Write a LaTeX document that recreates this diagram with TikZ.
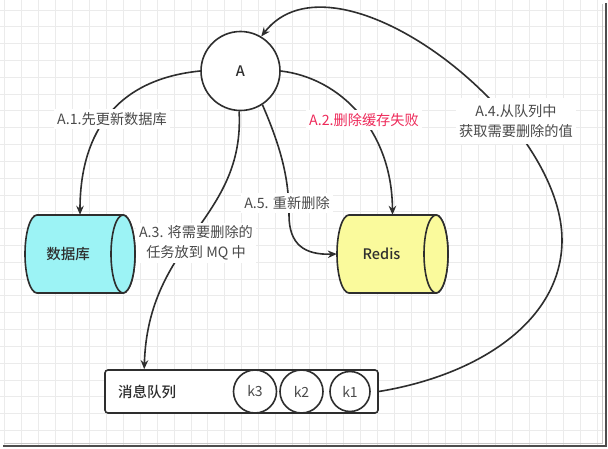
\documentclass[tikz,border=0pt]{standalone}
\usepackage{fontspec}
\setmainfont{Noto Sans CJK SC}
\newfontfamily\medfont{Noto Sans CJK SC Medium}
\usetikzlibrary{arrows.meta,calc}
\definecolor{ln}{HTML}{2E2E2E}
\definecolor{txt}{HTML}{4A4A4A}
\definecolor{redtxt}{HTML}{EE2A5A}
\definecolor{gridc}{HTML}{EBEBEB}
\definecolor{dbfill}{HTML}{9CF3F5}
\definecolor{rdfill}{HTML}{FAFA9C}
\begin{document}
\begin{tikzpicture}[x=1pt,y=-1pt,
  conn/.style={draw=ln, line width=1.6pt, -{Stealth[length=9pt,width=7.5pt]}},
  lbl/.style={fill=white, text=txt, font=\fontsize{14.2}{19.5}\selectfont, align=center, inner sep=3pt},
  shp/.style={draw=ln, line width=1.6pt},
  nodetxt/.style={text=ln, font=\fontsize{14.5}{17}\selectfont\medfont},
  kc/.style={circle, draw=ln, line width=1.6pt, fill=white, text=txt, font=\fontsize{14}{16}\selectfont, inner sep=0pt}]
\useasboundingbox (0,0) rectangle (608,449);
\fill[white] (0,0) rectangle (608,449);
% grid
\begin{scope}
\clip (0,0) rectangle (605,445);
\foreach \i in {-1,...,35} { \draw[gridc, line width=0.9pt] ({21.7+16.93*\i},0) -- ({21.7+16.93*\i},449); }
\foreach \j in {0,...,26} { \draw[gridc, line width=0.9pt] (0,{10+16.82*\j}) -- (608,{10+16.82*\j}); }
\end{scope}
% frame shadow
\draw[gray!45, line width=1pt] (602,4) -- (602,443) -- (4,443);
\draw[ln!85, line width=2pt] (606,3) -- (606,446) -- (3,446);

% database cylinder
\filldraw[shp, fill=dbfill] (37,215) -- (123,215) arc[start angle=-90,end angle=90,x radius=12,y radius=39] -- (37,293) arc[start angle=90,end angle=270,x radius=12,y radius=39] -- cycle;
\filldraw[shp, fill=dbfill] (123,254) ellipse [x radius=12, y radius=39];
\node[nodetxt, minimum width=110pt, minimum height=78pt, inner sep=0pt] (db) at (80,254) {\hspace*{-24pt}数据库};

% redis cylinder
\filldraw[shp, fill=rdfill] (349,215) -- (436,215) arc[start angle=-90,end angle=90,x radius=12,y radius=39] -- (349,293) arc[start angle=90,end angle=270,x radius=12,y radius=39] -- cycle;
\filldraw[shp, fill=rdfill] (436,254) ellipse [x radius=12, y radius=39];
\node[nodetxt, minimum width=111pt, minimum height=78pt, inner sep=0pt] (rd) at (392.5,254) {\hspace*{-22pt}Redis};

% A
\node[circle, shp, fill=white, minimum size=79pt, inner sep=0pt, text=ln, font=\fontsize{14.5}{17}\selectfont\medfont] (A) at (240.5,71) {A};

% queue
\node[shp, fill=white, rounded corners=3pt, minimum width=273pt, minimum height=43pt, inner sep=0pt] (q) at (241.5,391.5) {};
\node[nodetxt, anchor=center] (qt) at (147,392) {消息队列};
\node[kc, minimum size=43pt] (k3) at (255,391.5) {k3};
\node[kc, minimum size=43pt] (k2) at (301.5,391.5) {k2};
\node[kc, minimum size=40pt] (k1) at (350,391.5) {k1};

% connectors
\draw[conn] (A.west) .. controls (110,80) and (80,140) .. (db.north);
\draw[conn] (A.east) .. controls (340,78) and (392,130) .. (rd.north);
\draw[conn] (A.-57) .. controls (282,150) and (289,180) .. (289,215) .. controls (289,245) and (305,255) .. (rd.west);
\draw[conn] (A.268) .. controls (245,220) and (148,240) .. ($(q.north west)+(40,0)$);
\draw[conn] (q.east) .. controls (480,375) and (562,320) .. (562,240) .. controls (562,115) and (335,-58) .. (A.59);

% labels
\node[lbl] (l1) at (112,119) {A.1.先更新数据库};
\node[lbl, text=redtxt] (l2) at (364,120) {A.2.删除缓存失败};
\node[lbl] (l5) at (287,203) {A.5. 重新删除};
\node[lbl] (l3) at (196,243) {A.3. 将需要删除的\\任务放到 MQ 中};
\node[lbl, inner ysep=7pt] (l4) at (516,121) {A.4.从队列中\\获取需要删除的值};
\end{tikzpicture}
\end{document}
